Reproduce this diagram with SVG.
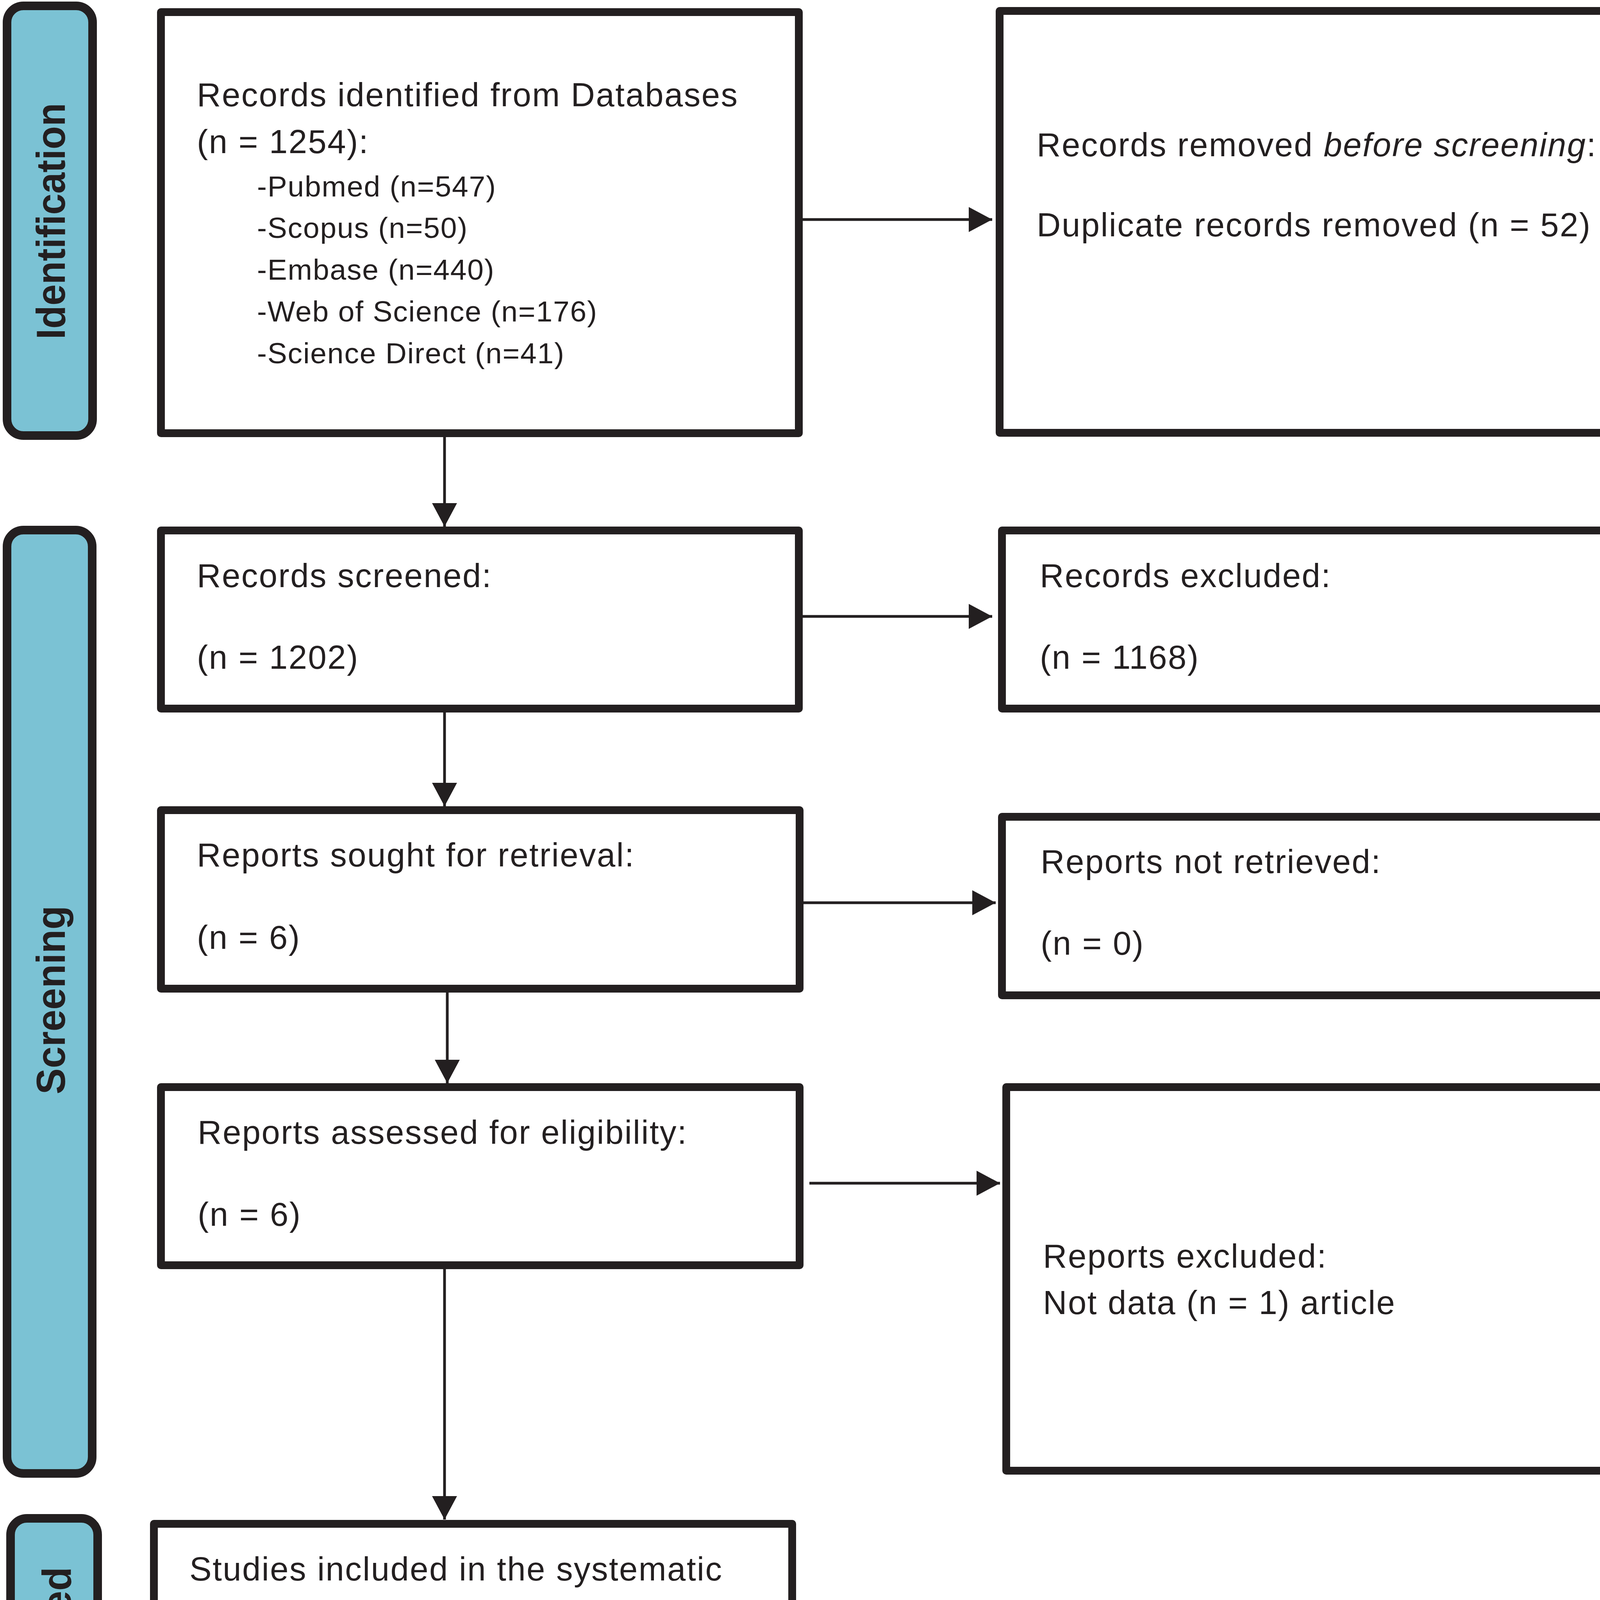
<svg xmlns="http://www.w3.org/2000/svg" width="4222" height="5156" viewBox="0 0 4222 5156">
<style>
.bg{fill:#ffffff}
.stage{fill:#7BC2D4;stroke:#231F20;stroke-width:22}
.box{fill:#ffffff;stroke:#231F20;stroke-width:20;stroke-linejoin:round}
.t{font-family:"Liberation Sans",Arial,sans-serif;font-size:85px;letter-spacing:2.5px;fill:#231F20}
.s{font-family:"Liberation Sans",Arial,sans-serif;font-size:75px;letter-spacing:1.8px;fill:#231F20}
.lab{font-family:"Liberation Sans",Arial,sans-serif;font-size:104px;font-weight:bold;fill:#231F20;text-anchor:middle}
.conn{fill:none;stroke:#231F20;stroke-width:7;marker-end:url(#ah)}
</style>
<defs>
<marker id="ah" viewBox="0 0 60 64" refX="60" refY="32" markerWidth="60" markerHeight="64" markerUnits="userSpaceOnUse" orient="auto">
<path d="M0,0 L60,32 L0,64 Z" fill="#231F20"/>
</marker>
</defs>
<rect class="bg" x="0" y="0" width="4222" height="5156"/>

<g id="stage-identification">
<rect class="stage" x="18" y="15" width="219" height="1100" rx="42"/>
<text class="lab" transform="translate(166,566) rotate(-90)" textLength="605" lengthAdjust="spacingAndGlyphs">Identification</text>
</g>
<g id="stage-screening">
<rect class="stage" x="18" y="1357" width="218" height="2415" rx="42"/>
<text class="lab" transform="translate(166,2560) rotate(-90)" textLength="483" lengthAdjust="spacingAndGlyphs">Screening</text>
</g>
<g id="stage-included">
<rect class="stage" x="27" y="3887" width="223" height="661" rx="42"/>
<text class="lab" transform="translate(181,4217) rotate(-90)" textLength="411" lengthAdjust="spacingAndGlyphs">Included</text>
</g>

<g id="connectors">
<path class="conn" d="M2055,562 H2540"/>
<path class="conn" d="M1138,1119 V1348"/>
<path class="conn" d="M2055,1578 H2540"/>
<path class="conn" d="M1138,1824 V2064"/>
<path class="conn" d="M2057,2311 H2549"/>
<path class="conn" d="M1145,2541 V2773"/>
<path class="conn" d="M2072,3029 H2560"/>
<path class="conn" d="M1138,3249 V3890"/>
</g>

<g id="node-identified">
<rect class="box" x="412" y="31" width="1633" height="1078"/>
<text class="t" x="504" y="272">Records identified from Databases</text>
<text class="t" x="504" y="392">(n = 1254):</text>
<text class="s" x="658" y="503">-Pubmed (n=547)</text>
<text class="s" x="658" y="609">-Scopus (n=50)</text>
<text class="s" x="658" y="716">-Embase (n=440)</text>
<text class="s" x="658" y="823">-Web of Science (n=176)</text>
<text class="s" x="658" y="930">-Science Direct (n=41)</text>
</g>

<g id="node-removed">
<rect class="box" x="2559" y="28" width="1633" height="1080"/>
<text class="t" x="2654" y="400">Records removed <tspan font-style="italic">before screening</tspan>:</text>
<text class="t" x="2654" y="605">Duplicate records removed (n = 52)</text>
</g>

<g id="node-screened">
<rect class="box" x="412" y="1358" width="1633" height="456"/>
<text class="t" x="504" y="1503">Records screened:</text>
<text class="t" x="504" y="1712">(n = 1202)</text>
</g>

<g id="node-records-excluded">
<rect class="box" x="2565" y="1358" width="1638" height="456"/>
<text class="t" x="2662" y="1503">Records excluded:</text>
<text class="t" x="2662" y="1712">(n = 1168)</text>
</g>

<g id="node-sought">
<rect class="box" x="412" y="2074" width="1635" height="457"/>
<text class="t" x="504" y="2218">Reports sought for retrieval:</text>
<text class="t" x="504" y="2429">(n = 6)</text>
</g>

<g id="node-not-retrieved">
<rect class="box" x="2565" y="2091" width="1638" height="457"/>
<text class="t" x="2664" y="2235">Reports not retrieved:</text>
<text class="t" x="2664" y="2444">(n = 0)</text>
</g>

<g id="node-assessed">
<rect class="box" x="412" y="2783" width="1635" height="456"/>
<text class="t" x="506" y="2928">Reports assessed for eligibility:</text>
<text class="t" x="506" y="3138">(n = 6)</text>
</g>

<g id="node-reports-excluded">
<rect class="box" x="2576" y="2783" width="1632" height="982"/>
<text class="t" x="2670" y="3245">Reports excluded:</text>
<text class="t" x="2670" y="3364">Not data (n = 1) article</text>
</g>

<g id="node-included">
<rect class="box" x="394" y="3901" width="1634" height="1245"/>
<text class="t" x="485" y="4046">Studies included in the systematic</text>
<text class="t" x="485" y="4167">review for cualitative assessment</text>
<text class="t" x="485" y="4377">(n = 5) (2 RCT, 3 Observational)</text>
<text class="t" x="485" y="4586">Studies included in the systematic</text>
<text class="t" x="485" y="4708">review for quantitative assessment</text>
<text class="t" x="485" y="4918">(n = 5) (2 RCT, 3 Observational)</text>
</g>
</svg>
